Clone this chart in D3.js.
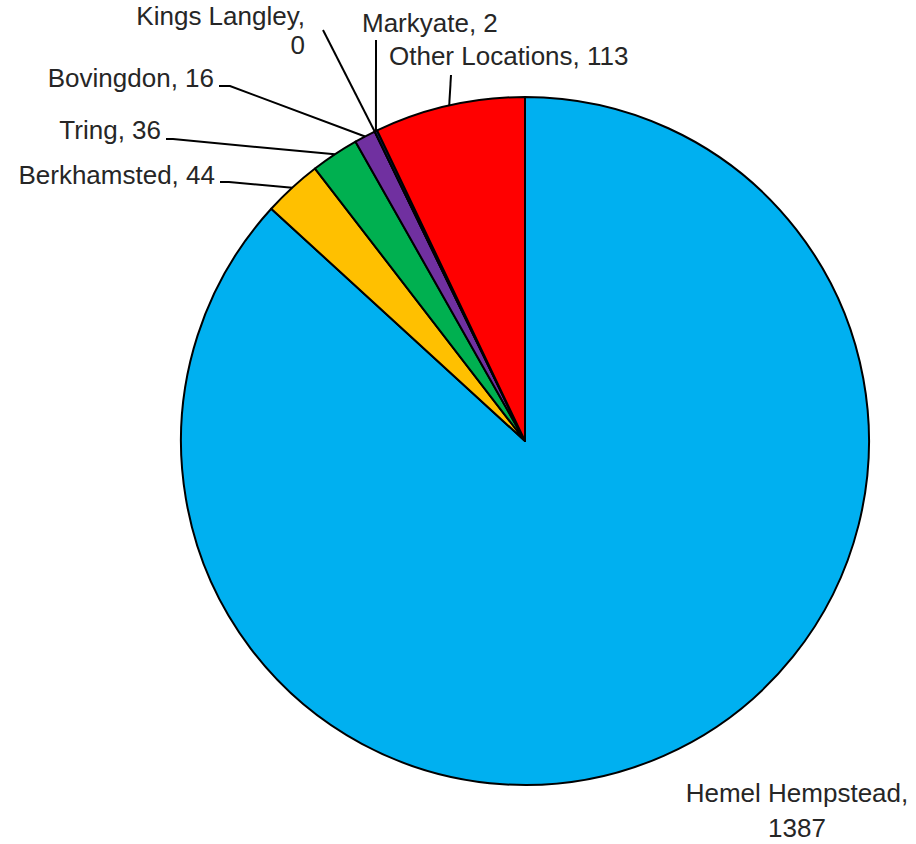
<!DOCTYPE html>
<html>
<head>
<script src="https://d3js.org/d3.v7.min.js"></script>
<style>
  body { margin: 0; background: #fff; }
  text { font-family: "Liberation Sans", Arial, sans-serif; font-size: 26px; fill: #262626; }
</style>
</head>
<body>
<script>
  // data (clockwise from 12 o'clock)
  var towns = ["Hemel Hempstead", "Berkhamsted", "Tring", "Bovingdon", "Kings Langley", "Markyate", "Other Locations"];
  var counts = [1387, 44, 36, 16, 0, 2, 113];
  var colours = ["#00B0F0", "#FFC000", "#00B050", "#7030A0", "#002060", "#002060", "#FF0000"];

  var width = 916, height = 844;
  var cx = 525, cy = 441, r = 344;

  var svg = d3.select("body").append("svg")
      .attr("width", width)
      .attr("height", height);

  var data = towns.map(function(t, i) { return { name: t, value: counts[i], colour: colours[i] }; });

  var pie = d3.pie().sort(null).value(function(d) { return d.value; });
  var arc = d3.arc().innerRadius(0).outerRadius(r);
  var arcs = pie(data);

  var g = svg.append("g").attr("transform", "translate(" + cx + "," + cy + ")");

  g.selectAll("path")
    .data(arcs)
    .enter()
    .append("path")
      .attr("d", arc)
      .attr("fill", function(d) { return d.data.colour; })
      .attr("stroke", "#000")
      .attr("stroke-width", 2)
      .attr("stroke-linejoin", "round");

  // label placement: x, baseline y, anchor, leader start, elbow
  var labelPos = {
    "Hemel Hempstead": { x: 797, y: 802, anchor: "middle", lines: ["Hemel Hempstead,", "1387"] },
    "Berkhamsted": { x: 215, y: 184, anchor: "end", lead: [220, 182], elbow: [229, 182] },
    "Tring": { x: 161, y: 139, anchor: "end", lead: [166, 139], elbow: [173, 139] },
    "Bovingdon": { x: 214, y: 87, anchor: "end", lead: [219, 86], elbow: [230, 86] },
    "Kings Langley": { x: 305, y: 25, anchor: "end", lead: [323, 30], second: [305, 54] },
    "Markyate": { x: 362, y: 32, anchor: "start", lead: [376, 40], elbow: [376, 40] },
    "Other Locations": { x: 389, y: 65, anchor: "start", lead: [451, 75], elbow: [451, 75] }
  };

  arcs.forEach(function(d) {
    var p = labelPos[d.data.name];
    var mid = (d.startAngle + d.endAngle) / 2;
    var ex = cx + r * Math.sin(mid), ey = cy - r * Math.cos(mid);

    if (p.lead) {
      var pts = [p.lead];
      if (p.elbow) pts.push(p.elbow);
      pts.push([ex, ey]);
      svg.append("path")
        .attr("d", d3.line()(pts))
        .attr("fill", "none")
        .attr("stroke", "#000")
        .attr("stroke-width", 2);
    }

    if (p.lines) {
      p.lines.forEach(function(l, i) {
        svg.append("text")
          .attr("x", p.x)
          .attr("y", p.y + i * 35)
          .attr("text-anchor", p.anchor)
          .text(l);
      });
    } else if (p.second) {
      svg.append("text")
        .attr("x", p.x).attr("y", p.y)
        .attr("text-anchor", p.anchor)
        .text(d.data.name + ",");
      svg.append("text")
        .attr("x", p.second[0]).attr("y", p.second[1])
        .attr("text-anchor", "end")
        .text(d.data.value);
    } else {
      svg.append("text")
        .attr("x", p.x).attr("y", p.y)
        .attr("text-anchor", p.anchor)
        .text(d.data.name + ", " + d.data.value);
    }
  });
</script>
</body>
</html>
